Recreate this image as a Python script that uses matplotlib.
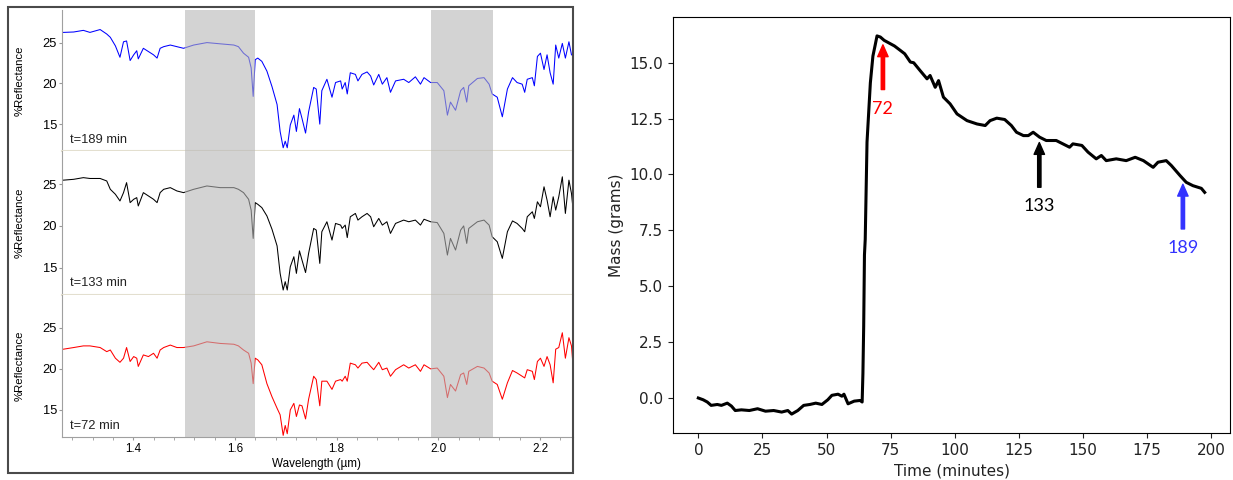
import numpy as np
import matplotlib.pyplot as plt
from matplotlib.patches import Rectangle
from matplotlib.ticker import MultipleLocator

# reflectance spectra (um, %) at three times during the run
wavelength = [1.263, 1.283, 1.302, 1.315, 1.335, 1.348, 1.355, 1.365, 1.374, 1.381,
              1.387, 1.394, 1.401, 1.407, 1.410, 1.420, 1.430, 1.440, 1.447, 1.453,
              1.460, 1.473, 1.486, 1.499, 1.519, 1.545, 1.571, 1.598, 1.607, 1.617,
              1.627, 1.632, 1.636, 1.640, 1.645, 1.653, 1.663, 1.673, 1.683, 1.689,
              1.695, 1.699, 1.703, 1.709, 1.716, 1.721, 1.727, 1.732, 1.739, 1.745,
              1.755, 1.760, 1.767, 1.771, 1.781, 1.791, 1.798, 1.808, 1.811, 1.817,
              1.821, 1.827, 1.837, 1.842, 1.850, 1.860, 1.867, 1.873, 1.883, 1.890,
              1.899, 1.906, 1.916, 1.932, 1.942, 1.955, 1.965, 1.972, 1.985, 1.998,
              2.011, 2.018, 2.024, 2.034, 2.044, 2.050, 2.056, 2.060, 2.077, 2.090,
              2.100, 2.106, 2.116, 2.126, 2.136, 2.146, 2.155, 2.165, 2.170, 2.175,
              2.185, 2.189, 2.195, 2.201, 2.208, 2.214, 2.220, 2.226, 2.231, 2.237,
              2.244, 2.250, 2.257, 2.262, 2.266]

refl_189 = [26.25, 26.3, 26.5, 26.25, 26.6, 26.05, 25.65, 24.6, 23.2, 25.1,
            25.2, 22.8, 23.5, 24.0, 23.0, 24.3, 23.9, 23.5, 23.1, 24.3,
            24.5, 24.7, 24.5, 24.3, 24.7, 25.0, 24.85, 24.7, 24.5, 23.7,
            23.2, 21.9, 18.4, 22.9, 23.1, 22.7, 21.5, 19.6, 17.4, 14.1,
            12.1, 12.9, 12.1, 14.9, 16.1, 14.1, 16.9, 15.7, 13.9, 16.5,
            19.5, 19.3, 15.0, 19.1, 20.5, 18.3, 20.1, 20.3, 19.3, 20.1,
            18.7, 21.3, 21.1, 20.3, 21.1, 21.4, 20.9, 19.8, 21.1, 19.9,
            20.7, 18.9, 20.3, 20.5, 20.1, 20.8, 19.9, 20.7, 20.1, 20.1,
            19.1, 16.1, 17.7, 16.7, 19.1, 19.5, 17.7, 19.7, 20.6, 20.7,
            19.9, 18.7, 18.3, 15.9, 19.3, 20.7, 20.1, 19.9, 18.9, 20.5,
            20.7, 19.7, 23.3, 23.7, 21.7, 23.5, 21.3, 19.9, 24.7, 23.1,
            24.9, 23.1, 25.1, 23.5, 23.4]

refl_133 = [25.5, 25.6, 25.8, 25.7, 25.7, 25.4, 24.4, 23.8, 23.0, 24.0,
            25.2, 22.8, 23.2, 23.4, 22.4, 24.0, 23.6, 23.2, 22.8, 24.0,
            24.4, 24.6, 24.2, 24.0, 24.4, 24.8, 24.6, 24.6, 24.4, 24.0,
            23.2, 21.9, 18.5, 22.8, 22.6, 22.2, 21.2, 19.6, 17.6, 14.3,
            12.3, 13.3, 12.3, 15.1, 16.3, 14.3, 17.0, 15.9, 14.4, 16.7,
            19.7, 19.5, 15.5, 19.3, 20.5, 18.3, 20.3, 20.1, 19.7, 20.1,
            18.6, 21.1, 21.5, 20.7, 21.1, 21.5, 21.1, 19.9, 20.9, 20.1,
            20.5, 19.1, 20.3, 20.7, 20.5, 20.7, 20.1, 20.8, 20.5, 20.4,
            19.1, 16.5, 18.5, 17.1, 19.5, 20.0, 17.9, 19.7, 20.5, 20.7,
            20.1, 18.7, 18.1, 16.1, 19.3, 20.6, 20.3, 19.7, 19.3, 21.1,
            21.7, 20.9, 22.9, 22.3, 24.7, 23.1, 21.1, 23.5, 21.9, 23.5,
            25.9, 21.5, 25.5, 23.9, 21.5]

refl_72 = [22.4, 22.6, 22.8, 22.8, 22.6, 22.1, 22.3, 21.3, 20.8, 21.3,
           22.6, 20.9, 21.5, 21.3, 20.3, 21.7, 21.5, 21.9, 21.3, 22.3,
           22.6, 22.9, 22.6, 22.6, 22.8, 23.3, 23.1, 23.0, 22.8, 22.3,
           21.9, 20.7, 18.2, 21.3, 21.1, 20.5, 18.2, 16.6, 15.2, 14.4,
           11.9, 13.1, 12.1, 15.0, 15.8, 14.2, 15.6, 15.5, 13.9, 16.3,
           19.1, 18.7, 15.5, 18.5, 18.5, 17.5, 18.5, 18.7, 18.5, 19.1,
           18.5, 20.7, 20.5, 20.1, 20.7, 20.8, 20.3, 19.9, 20.8, 19.9,
           20.1, 19.1, 19.9, 20.5, 20.1, 20.5, 19.7, 20.5, 20.0, 20.1,
           19.1, 16.5, 18.1, 17.3, 19.3, 19.5, 18.1, 19.7, 20.3, 20.1,
           19.5, 18.5, 18.1, 16.3, 18.3, 19.8, 19.5, 19.1, 18.9, 19.9,
           19.7, 18.7, 20.9, 21.3, 20.3, 21.5, 20.5, 18.3, 22.4, 22.6,
           24.4, 21.3, 23.8, 22.8, 19.7]

bands = [(1.502, 1.640), (1.986, 2.107)]

# mass record
time_min = [0.0, 1.9, 3.5, 5.0, 7.4, 9.0, 11.3, 12.9, 14.4, 16.8,
            19.9, 23.1, 26.2, 29.4, 32.5, 34.9, 36.4, 38.8, 41.1, 43.5,
            45.8, 48.2, 50.5, 52.1, 54.5, 56.0, 56.8, 58.4, 60.8, 63.1,
            63.9, 64.2, 64.5, 64.8, 65.1, 65.8, 67.1, 68.1, 69.0, 69.7,
            71.0, 72.5, 74.9, 76.5, 78.8, 80.5, 82.7, 84.0, 86.5, 89.2,
            90.4, 92.4, 93.7, 95.6, 98.2, 100.9, 104.8, 108.7, 111.9, 113.8,
            116.4, 119.5, 122.1, 124.1, 126.8, 128.7, 130.6, 133.1, 135.7, 139.6,
            142.2, 144.8, 146.1, 149.6, 152.0, 155.2, 157.2, 159.1, 163.0, 166.9,
            170.4, 173.6, 177.4, 179.3, 182.5, 184.5, 187.9, 190.3, 192.9, 196.2,
            197.5]
mass_g = [0.0, -0.08, -0.18, -0.33, -0.29, -0.33, -0.23, -0.36, -0.56, -0.53,
          -0.56, -0.48, -0.59, -0.56, -0.63, -0.56, -0.72, -0.56, -0.33, -0.29,
          -0.23, -0.29, -0.08, 0.12, 0.17, 0.08, 0.17, -0.26, -0.14, -0.11,
          -0.18, 1.1, 3.2, 6.4, 7.1, 11.45, 14.1, 15.3, 15.8, 16.2,
          16.15, 16.0, 15.85, 15.75, 15.55, 15.4, 15.03, 15.0, 14.65, 14.28,
          14.43, 13.9, 14.2, 13.46, 13.16, 12.71, 12.41, 12.26, 12.19, 12.41,
          12.52, 12.46, 12.19, 11.89, 11.74, 11.74, 11.89, 11.67, 11.52, 11.52,
          11.37, 11.22, 11.37, 11.3, 11.0, 10.7, 10.85, 10.62, 10.7, 10.62,
          10.77, 10.62, 10.32, 10.55, 10.62, 10.4, 9.95, 9.65, 9.5, 9.38,
          9.2]

mark_times = [72, 133, 189]
mark_colors = ['#ff0000', '#000000', '#3333ff']

W, H = 1233, 480
fig = plt.figure(figsize=(W / 100, H / 100), dpi=100)

# framed box around the spectra
fig.patches.append(Rectangle((8 / W, 7 / H), 565 / W, 466 / H, transform=fig.transFigure,
                             fill=False, ec='#4a4a4a', lw=1.5))

spectra = [(refl_189, '#0000ff', 't=189 min', 0.6854, 0.2938),
           (refl_133, '#000000', 't=133 min', 0.3854, 0.3000),
           (refl_72, '#ff0000', 't=72 min', 0.0896, 0.2958)]

for i, (refl, c, lab, y0, h) in enumerate(spectra):
    ax = fig.add_axes([62 / W, y0, 511 / W, h])
    ax.plot(wavelength, refl, color=c, lw=0.75)
    for a, b in bands:
        ax.axvspan(a, b, color='#b6b6b6', alpha=0.6, lw=0, zorder=3)
    ax.set_xlim(1.26, 2.265)
    ax.set_ylim(11.7, 29.0)
    ax.set_yticks([15, 20, 25])
    ax.tick_params(axis='y', labelsize=9.3, length=2, pad=1.5, color='#999999')
    for lbl in ax.get_yticklabels():
        lbl.set_family('Liberation Sans')
    ax.spines['top'].set_visible(False)
    ax.spines['right'].set_visible(False)
    ax.spines['left'].set_color('#a0a0a0')
    ax.set_ylabel('%Reflectance', fontsize=8.2, family='Liberation Sans')
    ax.yaxis.set_label_coords(-0.074, 0.5)
    ax.text(0.016, 0.08, lab, transform=ax.transAxes, fontsize=9.3,
            family='Liberation Sans', va='center', color='#222222')
    if i < 2:
        ax.spines['bottom'].set_color('#e3dfcf')
        ax.spines['bottom'].set_linewidth(1.5)
        ax.set_xticks([])
    else:
        ax.spines['bottom'].set_color('#a0a0a0')
        ax.set_xticks([1.4, 1.6, 1.8, 2.0, 2.2])
        ax.xaxis.set_minor_locator(MultipleLocator(0.04))
        ax.tick_params(axis='x', which='both', labelsize=8.4, length=2, pad=2, color='#999999')
        for lbl in ax.get_xticklabels():
            lbl.set_family('Liberation Sans')
        ax.set_xlabel('Wavelength (µm)', fontsize=8.4, family='Liberation Sans')
        ax.xaxis.set_label_coords(0.497, -0.15)

# mass vs time
ax2 = fig.add_axes([673 / W, 1 - 433 / H, 557 / W, 416 / H])
ax2.plot(time_min, mass_g, color='black', lw=2.2)
ax2.set_yticks([0.0, 2.5, 5.0, 7.5, 10.0, 12.5, 15.0])
ax2.set_xticks([0, 25, 50, 75, 100, 125, 150, 175, 200])
ax2.tick_params(labelsize=11, colors='#222222')
ax2.set_xlabel('Time (minutes)', fontsize=11, color='#222222')
ax2.set_ylabel('Mass (grams)', fontsize=11, color='#222222')

for t, c in zip(mark_times, mark_colors):
    tip = np.interp(t, time_min, mass_g) - 0.25
    ax2.annotate('', xy=(t, tip), xytext=(t, tip - 2.0),
                 arrowprops=dict(color=c, width=2.4, headwidth=7.5, headlength=8.5, shrink=0))
    ax2.text(t, tip - 2.85, str(t), color=c, fontsize=13, family='Lato',
             ha='center', va='center')

plt.savefig('out.png', dpi=100)
